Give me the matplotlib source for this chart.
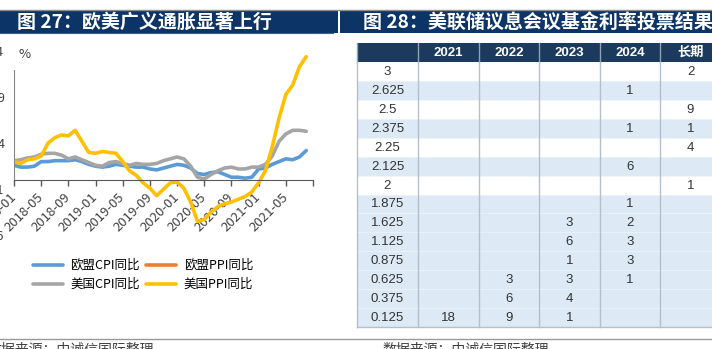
import matplotlib
matplotlib.use("Agg")
import matplotlib.pyplot as plt
from matplotlib.patches import Rectangle

CJK = ["Noto Sans CJK SC", "DejaVu Sans"]
LAT = ["Liberation Sans", "Noto Sans CJK SC", "DejaVu Sans"]
plt.rcParams["font.family"] = CJK

# ---------------- data: inflation chart ----------------
months = [f"{y}-{m:02d}" for y in range(2018, 2022) for m in range(1, 13)][:44]
tick_labels = ["2018-01", "2018-05", "2018-09", "2019-01", "2019-05", "2019-09",
               "2020-01", "2020-05", "2020-09", "2021-01", "2021-05", ""]

eu_cpi = [1.6, 1.4, 1.4, 1.5, 2.0, 2.0, 2.1, 2.1, 2.1, 2.2, 2.0, 1.7,
          1.5, 1.4, 1.5, 1.7, 1.6, 1.5, 1.4, 1.4, 1.2, 1.1, 1.3, 1.5,
          1.7, 1.6, 1.3, 0.7, 0.6, 0.8, 0.9, 0.6, 0.3, 0.3, 0.2, 0.3,
          1.2, 1.3, 1.7, 2.0, 2.3, 2.2, 2.5, 3.2]
eu_ppi = []
us_cpi = [2.1, 2.2, 2.4, 2.5, 2.8, 2.9, 2.9, 2.7, 2.3, 2.5, 2.2, 1.9,
          1.6, 1.5, 1.9, 2.0, 1.8, 1.6, 1.8, 1.7, 1.7, 1.8, 2.1, 2.3,
          2.5, 2.3, 1.5, 0.3, 0.1, 0.6, 1.0, 1.3, 1.4, 1.2, 1.2, 1.4,
          1.4, 1.7, 2.6, 4.2, 5.0, 5.4, 5.4, 5.3]
us_ppi = [2.0, 1.8, 2.2, 2.3, 2.6, 4.0, 4.6, 4.9, 4.8, 5.4, 4.2, 3.0,
          2.9, 3.1, 3.0, 2.9, 2.0, 1.0, 0.5, -0.3, -0.9, -1.7, -1.0, -0.3,
          -0.2, -0.9, -2.4, -4.5, -4.3, -3.5, -2.9, -2.6, -2.4, -2.1, -1.8, -1.3,
          -0.3, 1.0, 3.6, 6.7, 9.3, 10.3, 12.3, 13.4]

series_names = ["欧盟CPI同比", "欧盟PPI同比", "美国CPI同比", "美国PPI同比"]
series_colors = ["#5B9BD5", "#ED7D31", "#A5A5A5", "#FFC000"]

# ---------------- data: FOMC dot plot table ----------------
rate_levels = ["3", "2.625", "2.5", "2.375", "2.25", "2.125", "2", "1.875",
               "1.625", "1.125", "0.875", "0.625", "0.375", "0.125"]
table_cols = ["2021", "2022", "2023", "2024", "长期"]
votes_2021 = [None] * 13 + [18]
votes_2022 = [None] * 11 + [3, 6, 9]
votes_2023 = [None] * 8 + [3, 6, 1, 3, 4, 1]
votes_2024 = [None, 1, None, 1, None, 6, None, 1, 2, 3, 3, 1, None, None]
votes_long = [2, None, 9, 1, 4, None, 1] + [None] * 7
table_votes = [votes_2021, votes_2022, votes_2023, votes_2024, votes_long]

W, H = 712, 349
fig = plt.figure(figsize=(W / 100, H / 100), dpi=100)

# page furniture drawn in pixel coordinates
pg = fig.add_axes([0, 0, 1, 1])
pg.set_xlim(0, W)
pg.set_ylim(H, 0)
pg.axis("off")

NAVY = "#0D3466"
pg.plot([0, W], [9.5, 9.5], color="#8C8C8C", lw=1)
pg.add_patch(Rectangle((0, 10), 338, 23, color=NAVY, lw=0))
pg.add_patch(Rectangle((339.5, 10), W - 339.5, 23, color=NAVY, lw=0))
pg.plot([0, 333], [32.5, 32.5], color="#3E5E86", lw=0.8)
pg.text(17, 22, "图 27：欧美广义通胀显著上行", color="white", fontsize=13.7,
        fontweight="bold", va="center", ha="left")
pg.text(363, 22, "图 28：美联储议息会议基金利率投票结果", color="white", fontsize=13.7,
        fontweight="bold", va="center", ha="left")

pg.plot([0, W], [339, 339], color="#9A9A9A", lw=1)
pg.text(-13, 343, "数据来源：中诚信国际整理", color="#404040", fontsize=10,
        va="top", ha="left")
pg.text(382, 343, "数据来源：中诚信国际整理", color="#404040", fontsize=10,
        va="top", ha="left")

# table
x_edges = [357, 418, 479, 539, 600, 660, 721]
head_top, head_bot = 43, 62
row_h = (327 - head_bot) / len(rate_levels)
HEAD = "#1C3A5E"
ROW_BLUE = "#DDEAF6"
pg.add_patch(Rectangle((x_edges[0], head_top), x_edges[-1] - x_edges[0],
                       head_bot - head_top, color=HEAD, lw=0))
for j, name in enumerate(table_cols):
    cx = (x_edges[j + 1] + x_edges[j + 2]) / 2
    pg.text(cx, (head_top + head_bot) / 2 + 0.5, name, color="white",
            fontsize=9.5, fontweight="bold", ha="center", va="center", family=LAT)
for i, lvl in enumerate(rate_levels):
    top = head_bot + i * row_h
    fill = "white" if (i < 8 and i % 2 == 0) else ROW_BLUE
    pg.add_patch(Rectangle((x_edges[0], top), x_edges[-1] - x_edges[0], row_h,
                           color=fill, lw=0))
    if i > 0:
        pg.plot([x_edges[0], x_edges[-1]], [top, top], color="#EEF3F9", lw=0.6)
    cy = top + row_h / 2 + 0.5
    pg.text((x_edges[0] + x_edges[1]) / 2, cy, lvl, color="#333333",
            fontsize=9.5, ha="center", va="center", family=LAT)
    for j, col in enumerate(table_votes):
        if col[i] is not None:
            cx = (x_edges[j + 1] + x_edges[j + 2]) / 2
            pg.text(cx, cy, str(col[i]), color="#333333", fontsize=9.5,
                    ha="center", va="center", family=LAT)
for k, xe in enumerate(x_edges[:-1]):
    pg.plot([xe, xe], [head_top, head_bot], color="#8FA3B8", lw=1)
    pg.plot([xe, xe], [head_bot, 327], color="#B3BFCC", lw=1)
pg.plot([x_edges[0], x_edges[-1]], [327, 327], color="#B3BFCC", lw=1)

# ---------------- inflation line chart ----------------
x0, x1 = 14, 313
y_top, y_bot = 51.2, 235.2
ax = fig.add_axes([x0 / W, 1 - y_bot / H, (x1 - x0) / W, (y_bot - y_top) / H])
ax.patch.set_alpha(0)
ax.set_xlim(0, 44)
ax.set_ylim(-6, 14)
idx = list(range(len(months)))
lines = {}
for name, vals, c in zip(series_names,
                         [eu_cpi, eu_ppi, us_cpi, us_ppi], series_colors):
    lines[name], = ax.plot(idx[:len(vals)], vals, color=c, lw=2.6, label=name,
                           solid_capstyle="round", solid_joinstyle="round")

for s in ["top", "right"]:
    ax.spines[s].set_visible(False)
ax.spines["bottom"].set_position(("data", 0))
ax.spines["bottom"].set_color("#595959")
ax.spines["left"].set_color("#868686")
ax.spines["left"].set_bounds(0, 11.95)
ax.set_yticks([-6, -1, 4, 9, 14])
ax.set_yticklabels(["-6", "-1", "4", "9", "14"])
ax.tick_params(axis="y", length=0, pad=7, labelsize=9, labelcolor="#404040")
ax.set_xticks(list(range(0, 45, 4)))
ax.set_xticklabels(tick_labels, rotation=45, ha="right", va="center",
                   rotation_mode="anchor")
ax.tick_params(axis="x", length=4, width=1, color="#595959", direction="out",
               pad=7, labelsize=9.5, labelcolor="#404040")
ax.text(25, 55, "%", transform=pg.transData, fontsize=9.5, color="#404040",
        ha="center", va="center")

# legend laid out row by row: EU pair on top, US pair below
order = ["欧盟CPI同比", "美国CPI同比", "欧盟PPI同比", "美国PPI同比"]
fig.legend([lines[n] for n in order], order, loc="upper left",
           bbox_to_anchor=(33 / W, 1 - 259 / H), ncol=2,
           frameon=False, fontsize=9, handlelength=2.4, handletextpad=0.6,
           columnspacing=0.5, labelspacing=0.5, borderpad=0, borderaxespad=0)

fig.savefig("out.png", dpi=100)
